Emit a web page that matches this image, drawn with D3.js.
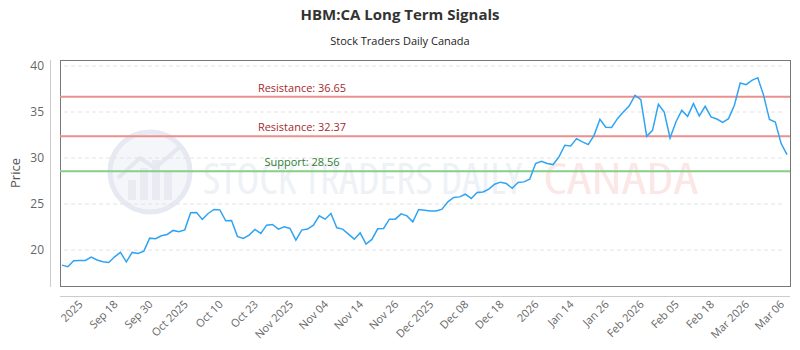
<!DOCTYPE html>
<html>
<head>
<meta charset="utf-8">
<script src="https://cdn.jsdelivr.net/npm/d3@7"></script>
<style>
  body { margin: 0; background: #fff; }
  svg text { font-family: "Open Sans", sans-serif; }
</style>
</head>
<body>
<div class="plot"></div>
<script>
var prices = [
  18.37, 18.19, 18.84, 18.88, 18.88, 19.24, 18.92, 18.73, 18.66, 19.27,
  19.75, 18.73, 19.75, 19.64, 19.89, 21.30, 21.23, 21.55, 21.70, 22.14,
  21.99, 22.20, 24.05, 24.09, 23.33, 23.98, 24.41, 24.37, 23.18, 23.22,
  21.49, 21.27, 21.63, 22.24, 21.81, 22.71, 22.79, 22.28, 22.53, 22.35,
  21.08, 22.17, 22.28, 22.71, 23.72, 23.36, 23.98, 22.42, 22.28, 21.74,
  21.19, 21.88, 20.65, 21.16, 22.31, 22.35, 23.36, 23.36, 23.94, 23.72,
  23.07, 24.41, 24.34, 24.26, 24.26, 24.45, 25.24, 25.72, 25.78, 26.07,
  25.61, 26.26, 26.32, 26.62, 27.16, 27.38, 27.23, 26.72, 27.34, 27.41,
  27.70, 29.40, 29.65, 29.40, 29.29, 30.12, 31.39, 31.31, 32.11, 31.75,
  31.46, 32.47, 34.21, 33.34, 33.33, 34.28, 35.00, 35.65, 36.81, 36.35,
  32.36, 33.01, 35.84, 35.00, 32.18, 33.92, 35.18, 34.53, 35.91, 34.57,
  35.62, 34.46, 34.24, 33.88, 34.28, 35.73, 38.15, 37.97, 38.44, 38.73,
  36.81, 34.18, 33.92, 31.57, 30.38
];

var tickLabels = ["2025", "Sep 18", "Sep 30", "Oct 2025", "Oct 10", "Oct 23",
  "Nov 2025", "Nov 04", "Nov 14", "Nov 26", "Dec 2025", "Dec 08", "Dec 18",
  "2026", "Jan 14", "Jan 26", "Feb 2026", "Feb 05", "Feb 18", "Mar 2026", "Mar 06"];

var yTicks = [20, 25, 30, 35, 40];

var levelNames = ["Resistance", "Resistance", "Support"];
var levelValues = [36.65, 32.37, 28.56];

var width = 800,
    height = 350,
    pLeft = 60, pRight = 790, pTop = 60, pBottom = 286;

// every 6th point gets a label, starting at the 5th
var tickIdx = tickLabels.map(function(d, i) { return 4 + i * 6; });

var x = d3.scalePoint()
    .domain(d3.range(prices.length))
    .range([62, 787]);

var y = d3.scaleLinear()
    .domain([16.1, 40.65])
    .range([pBottom, pTop]);

var svg = d3.select(".plot").append("svg")
    .attr("width", width)
    .attr("height", height);

// title
svg.append("text")
    .attr("x", 400).attr("y", 20)
    .attr("text-anchor", "middle")
    .style("font-size", "15px").style("font-weight", "bold")
    .attr("fill", "#333")
    .text("HBM:CA Long Term Signals");

svg.append("text")
    .attr("x", 400).attr("y", 45)
    .attr("text-anchor", "middle")
    .style("font-size", "11px")
    .attr("fill", "#222")
    .text("Stock Traders Daily Canada");

// watermark
var wm = svg.append("g").attr("class", "watermark");
wm.append("circle")
    .attr("cx", 150).attr("cy", 172).attr("r", 40)
    .attr("fill", "#f4f6fa")
    .attr("stroke", "#e6e9f1").attr("stroke-width", 5);
[[128, 180, 8, 20], [140, 168, 8, 32], [152, 160, 8, 40], [164, 172, 8, 28]].forEach(function(b) {
  wm.append("rect").attr("x", b[0]).attr("y", b[1]).attr("width", b[2]).attr("height", b[3])
    .attr("fill", "#e8ebf2");
});
wm.append("path")
    .attr("d", "M118,178 L140,158 L155,168 L182,145")
    .attr("fill", "none").attr("stroke", "#e5e8f0").attr("stroke-width", 4);
wm.append("text")
    .attr("x", 203).attr("y", 194)
    .attr("textLength", 319).attr("lengthAdjust", "spacingAndGlyphs")
    .style("font-size", "44px").style("font-stretch", "condensed")
    .attr("fill", "#eef1f6")
    .text("STOCK TRADERS DAILY");
wm.append("text")
    .attr("x", 543).attr("y", 194)
    .attr("textLength", 155).attr("lengthAdjust", "spacingAndGlyphs")
    .style("font-size", "44px").style("font-stretch", "condensed")
    .attr("fill", "#fce7e7")
    .text("CANADA");

// grid
svg.append("g").selectAll("line")
    .data(yTicks)
  .enter().append("line")
    .attr("x1", 64).attr("x2", 782)
    .attr("y1", function(d) { return y(d); })
    .attr("y2", function(d) { return y(d); })
    .attr("stroke", "#e3e3e3")
    .attr("stroke-dasharray", "4,3");

// frame
svg.append("rect")
    .attr("x", pLeft + 0.5).attr("y", pTop + 0.5)
    .attr("width", pRight - pLeft).attr("height", pBottom - pTop)
    .attr("fill", "none").attr("stroke", "#777");

// y axis
svg.append("line")
    .attr("x1", 50.5).attr("x2", 50.5).attr("y1", pTop).attr("y2", pBottom + 1)
    .attr("stroke", "#ccc");
svg.append("g").selectAll("text")
    .data(yTicks)
  .enter().append("text")
    .attr("x", 44)
    .attr("y", function(d) { return y(d); })
    .attr("dy", "0.35em")
    .attr("text-anchor", "end")
    .style("font-size", "12px")
    .attr("fill", "#666")
    .text(function(d) { return d; });
svg.append("text")
    .attr("transform", "translate(20," + ((pTop + pBottom) / 2) + ") rotate(-90)")
    .attr("text-anchor", "middle")
    .style("font-size", "13px")
    .attr("fill", "#555")
    .text("Price");

// x axis
svg.append("line")
    .attr("x1", pLeft).attr("x2", pRight).attr("y1", 296.5).attr("y2", 296.5)
    .attr("stroke", "#ccc");
svg.append("g").selectAll("text")
    .data(tickIdx)
  .enter().append("text")
    .attr("transform", function(d) { return "translate(" + (x(d) - 2) + ",305) rotate(-45)"; })
    .attr("text-anchor", "end")
    .style("font-size", "11px")
    .attr("fill", "#666")
    .text(function(d, i) { return tickLabels[i]; });

// support / resistance
var levels = svg.append("g").selectAll("g")
    .data(levelValues)
  .enter().append("g");
levels.append("line")
    .attr("x1", pLeft).attr("x2", pRight)
    .attr("y1", function(d) { return y(d); })
    .attr("y2", function(d) { return y(d); })
    .attr("stroke", function(d, i) { return levelNames[i] == "Support" ? "#86cf86" : "#eb8f8f"; })
    .attr("stroke-width", 2);
levels.append("text")
    .attr("x", 302)
    .attr("y", function(d) { return y(d) - 5; })
    .attr("text-anchor", "middle")
    .style("font-size", "11px")
    .attr("fill", function(d, i) { return levelNames[i] == "Support" ? "#2e7d32" : "#a52a2a"; })
    .text(function(d, i) { return levelNames[i] + ": " + d; });

// price line
var line = d3.line()
    .x(function(d, i) { return x(i); })
    .y(function(d) { return y(d); });

svg.append("path")
    .datum(prices)
    .attr("d", line)
    .attr("fill", "none")
    .attr("stroke", "#2fa4f3")
    .attr("stroke-width", 1.5);
</script>
</body>
</html>
